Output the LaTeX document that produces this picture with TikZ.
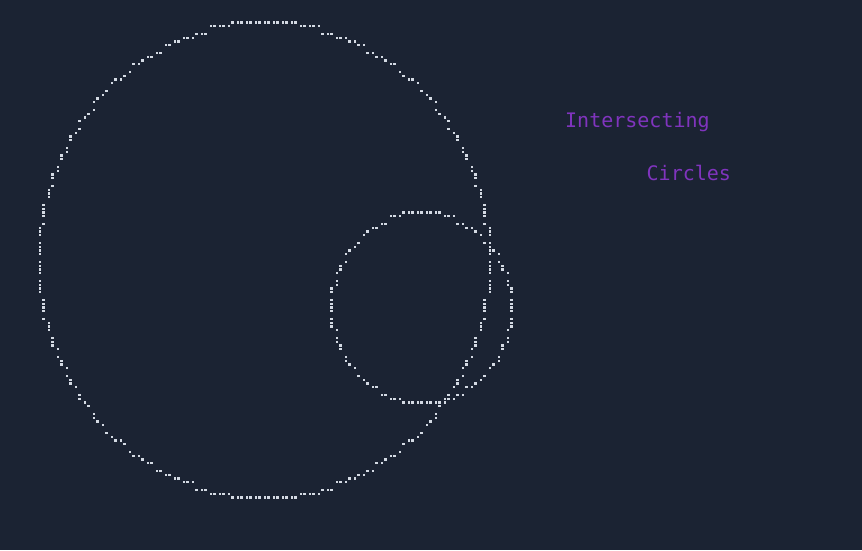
\documentclass[tikz,border=0pt]{standalone}
\usepackage{fontspec}
\newfontfamily\monofont{DejaVu Sans Mono}
\definecolor{bg}{RGB}{27,35,51}
\definecolor{dotc}{RGB}{212,218,228}
\definecolor{txt}{RGB}{128,52,190}
\tikzset{
  lbl/.style={text=txt, font=\monofont\fontsize{20}{24}\selectfont, inner sep=0pt, anchor=base west},
  brdot/.style={fill=dotc}
}
% one braille dot at grid cell (u,v)
\newcommand\brailledot[2]{%
  \pgfmathsetmacro\px{3.7+9*floor((#1)/2)+3.7*mod(#1,2)}%
  \pgfmathsetmacro\py{15.3+19*floor((#2)/4)+3.55*mod(#2,4)}%
  \fill[brdot] (\px-1.1,\py-1.1) rectangle ++(2.2,2.2);%
}
% circle on the braille grid: centre (cu,cv), radius r, last octant index n
\newcommand\braillecircle[4]{%
  \foreach \d in {0,...,#4}{%
    \pgfmathtruncatemacro\e{round(sqrt((#3)*(#3)-\d*\d))}%
    \foreach \su in {-1,1}{\foreach \sv in {-1,1}{%
      \pgfmathtruncatemacro\ua{#1+\su*\d}\pgfmathtruncatemacro\va{#2+\sv*\e}%
      \brailledot{\ua}{\va}%
      \pgfmathtruncatemacro\ub{#1+\su*\e}\pgfmathtruncatemacro\vb{#2+\sv*\d}%
      \brailledot{\ub}{\vb}%
    }}%
  }%
}
\begin{document}
\begin{tikzpicture}[x=1pt,y=-1pt]
\fill[bg] (0,0) rectangle (862,550);
\useasboundingbox (0,0) rectangle (862,550);
\braillecircle{58}{52}{50}{35}
\braillecircle{93}{62}{20}{14}
\node[lbl] (t1) at (565,127.5) {Intersecting};
\node[lbl] (t2) at (646.5,180.5) {Circles};
\end{tikzpicture}
\end{document}
